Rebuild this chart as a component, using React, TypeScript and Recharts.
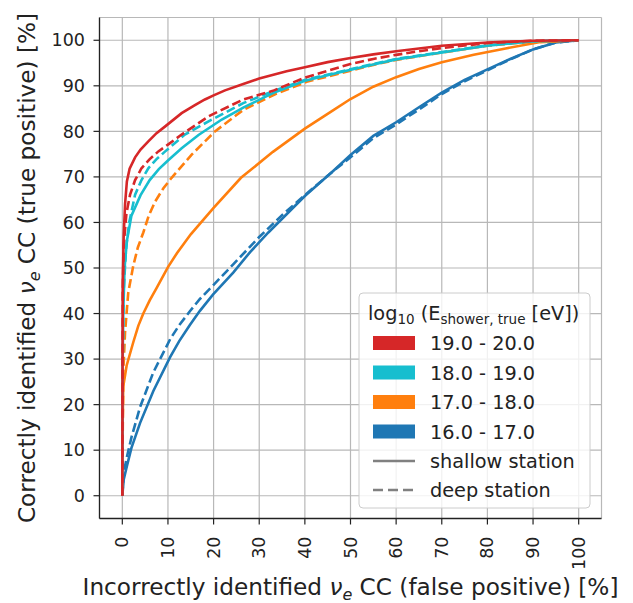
import React from "react";
import { LineChart, Line, XAxis, YAxis, CartesianGrid } from "recharts";

// ---- data (false positive % , true positive %) ----
const ticks = [0, 10, 20, 30, 40, 50, 60, 70, 80, 90, 100];

const red_shallow_fpr = [0, 0.05, 0.1, 0.3, 0.6, 1, 1.6, 2.8, 4, 5.7, 7.5, 9.4, 13, 16, 18.1, 20, 22.5, 26.5, 30, 36, 40, 45, 50, 55, 60, 65, 70, 80, 90, 100];
const red_shallow_tpr = [0, 30, 47, 57, 64, 69, 71.8, 74.3, 76, 77.8, 79.6, 81.1, 84, 85.8, 87, 87.9, 89, 90.4, 91.6, 93.2, 94.1, 95.2, 96.1, 96.9, 97.6, 98.2, 98.8, 99.5, 99.9, 100];

const red_deep_fpr = [0, 0.1, 0.3, 0.9, 1.7, 2.8, 4.2, 6, 7.9, 10, 13, 18.9, 24, 26.5, 33, 40, 45, 50, 55, 60, 65, 70, 80, 90, 100];
const red_deep_tpr = [0, 45, 55, 62, 66.1, 69.3, 71.9, 73.9, 75.6, 77.1, 79.3, 83.3, 85.8, 87, 88.9, 91.8, 93.3, 94.8, 95.9, 96.8, 97.6, 98.3, 99.4, 99.9, 100];

const cyan_shallow_fpr = [0, 0.05, 0.2, 0.5, 1, 2, 4, 6, 8, 10, 13, 16.7, 21.8, 26.5, 33, 40, 47.7, 55, 60, 70, 80, 90, 100];
const cyan_shallow_tpr = [0, 27, 40, 50, 56, 61.5, 66, 69.3, 71.7, 73.6, 76.3, 79.2, 82.6, 85.2, 88.4, 91.1, 93, 94.7, 95.8, 97.3, 98.8, 99.8, 100];

const cyan_deep_fpr = [0, 0.1, 0.3, 0.8, 1.5, 2.8, 4.2, 5.7, 7.5, 9.4, 13.7, 18.9, 26.5, 33, 40, 47.7, 55, 60, 70, 80, 90, 100];
const cyan_deep_tpr = [0, 30, 45, 54, 60, 66.1, 69.3, 71.9, 73.9, 75.6, 79.3, 82.2, 86.2, 88.8, 91.3, 93.1, 94.8, 95.9, 97.4, 98.9, 99.8, 100];

const orange_shallow_fpr = [0, 0.05, 0.2, 0.95, 2.4, 3.5, 4.6, 6, 7.5, 10, 12, 15, 20, 26, 33, 40, 46, 50, 55, 60, 65, 70, 77, 84, 91.6, 100];
const orange_shallow_tpr = [0, 14, 24, 28.6, 33.7, 37.3, 40, 42.9, 45.6, 50.2, 53.3, 57.4, 63.2, 69.8, 75.5, 80.6, 84.5, 87.1, 89.8, 91.9, 93.7, 95.2, 96.8, 98.2, 99.6, 100];

const orange_deep_fpr = [0, 0.1, 0.2, 0.6, 1.3, 2.4, 3.4, 4.6, 5.8, 7.2, 9, 10.8, 15.2, 20.3, 26.5, 33.8, 40.4, 50, 55, 60, 70, 80, 90, 100];
const orange_deep_tpr = [0, 15, 27, 35.9, 44.6, 50.5, 54.5, 57.8, 61.5, 64.6, 67.5, 69.8, 74.9, 80, 84.7, 88.3, 90.9, 93.3, 94.6, 95.7, 97.3, 98.8, 99.7, 100];

const blue_shallow_fpr = [0, 0.3, 1, 2, 3.9, 6.8, 10.5, 12.5, 14.8, 17, 19.9, 24.3, 28, 32, 36, 40, 46.2, 50, 55, 60, 65, 70, 75, 80, 85, 90, 95, 100];
const blue_shallow_tpr = [0, 3.5, 6.5, 10.5, 16, 23, 30.5, 34, 37.5, 40.6, 44.2, 49, 53.5, 57.8, 61.8, 65.8, 71.3, 74.8, 79, 82, 85.3, 88.5, 91.3, 93.6, 95.9, 98, 99.5, 100];

const blue_deep_fpr = [0, 0.3, 1, 2, 3.9, 6.8, 10.5, 12.5, 14.8, 17, 19.9, 24.3, 30, 35, 40, 46, 50, 55, 60, 65, 70, 75, 80, 85, 90, 95, 100];
const blue_deep_tpr = [0, 5, 8.5, 12.8, 19.5, 27.1, 34.4, 37.5, 40.5, 43.2, 46.2, 50.8, 56.8, 61.6, 66, 71.1, 74.3, 78.5, 81.5, 84.8, 88.2, 91, 93.4, 95.8, 98, 99.5, 100];

const energyBins = ["19.0 - 20.0", "18.0 - 19.0", "17.0 - 18.0", "16.0 - 17.0"];
const binColors = ["#d62728", "#17becf", "#ff7f0e", "#1f77b4"];

const zip = (xs: number[], ys: number[]) => xs.map((x, i) => ({ x, y: ys[i] }));

const series = [
  { key: "blue_s", data: zip(blue_shallow_fpr, blue_shallow_tpr), color: binColors[3], dashed: false },
  { key: "blue_d", data: zip(blue_deep_fpr, blue_deep_tpr), color: binColors[3], dashed: true },
  { key: "orange_s", data: zip(orange_shallow_fpr, orange_shallow_tpr), color: binColors[2], dashed: false },
  { key: "orange_d", data: zip(orange_deep_fpr, orange_deep_tpr), color: binColors[2], dashed: true },
  { key: "cyan_s", data: zip(cyan_shallow_fpr, cyan_shallow_tpr), color: binColors[1], dashed: false },
  { key: "cyan_d", data: zip(cyan_deep_fpr, cyan_deep_tpr), color: binColors[1], dashed: true },
  { key: "red_s", data: zip(red_shallow_fpr, red_shallow_tpr), color: binColors[0], dashed: false },
  { key: "red_d", data: zip(red_deep_fpr, red_deep_tpr), color: binColors[0], dashed: true },
];

const FONT = "DejaVu Sans";
const TXT = "#222";
const TICK_FS = 17.5;
const LEG_FS = 19.3;
const LAB_FS = 23.2;

const XTick = (props: any) => {
  const { x, y, payload } = props;
  return (
    <text
      x={x}
      y={y}
      transform={`rotate(-90 ${x} ${y})`}
      textAnchor="end"
      dominantBaseline="central"
      fontSize={TICK_FS}
      fontFamily={FONT}
      fill={TXT}
    >
      {payload.value}
    </text>
  );
};

const W = 633;
const H = 603;

export default function App() {
  return (
    <div style={{ position: "absolute", left: 0, top: 0, width: W, height: H, background: "#fff" }}>
      <LineChart
        width={W}
        height={H}
        margin={{ top: 17.5, right: 31.5, left: 0, bottom: 0 }}
      >
        <CartesianGrid stroke="#b8b8b8" strokeWidth={1.2} />
        <XAxis
          dataKey="x"
          type="number"
          domain={[-5, 105]}
          ticks={ticks}
          interval={0}
          height={84.5}
          tickSize={6}
          tickMargin={12}
          tick={<XTick />}
          tickLine={{ stroke: TXT, strokeWidth: 1.2 }}
          axisLine={{ stroke: TXT, strokeWidth: 1.3 }}
          allowDataOverflow
        />
        <XAxis
          xAxisId="top"
          orientation="top"
          type="number"
          domain={[-5, 105]}
          height={0}
          tick={false}
          tickLine={false}
          axisLine={{ stroke: TXT, strokeWidth: 1.3 }}
        />
        <YAxis
          type="number"
          domain={[-5, 105]}
          ticks={ticks}
          interval={0}
          width={99.5}
          tickSize={6}
          tickMargin={8.5}
          tick={{ fontSize: TICK_FS, fontFamily: FONT, fill: TXT }}
          tickLine={{ stroke: TXT, strokeWidth: 1.2 }}
          axisLine={{ stroke: TXT, strokeWidth: 1.3 }}
          allowDataOverflow
        />
        <YAxis
          yAxisId="right"
          orientation="right"
          type="number"
          domain={[-5, 105]}
          width={0}
          tick={false}
          tickLine={false}
          axisLine={{ stroke: TXT, strokeWidth: 1.3 }}
        />
        {series.map((s) => (
          <Line
            key={s.key}
            data={s.data}
            dataKey="y"
            type="linear"
            stroke={s.color}
            strokeWidth={2.6}
            strokeDasharray={s.dashed ? "9 4" : undefined}
            dot={false}
            activeDot={false}
            isAnimationActive={false}
          />
        ))}
      </LineChart>
      <svg
        width={W}
        height={H}
        style={{ position: "absolute", left: 0, top: 0, pointerEvents: "none" }}
        fontFamily={FONT}
      >
        {/* axis titles */}
        <text x={350.5} y={595} textAnchor="middle" fontSize={LAB_FS} fill={TXT}>
          Incorrectly identified <tspan fontStyle="italic">ν</tspan>
          <tspan fontStyle="italic" fontSize={16} dy={5}>e</tspan>
          <tspan dy={-5}> CC (false positive) [%]</tspan>
        </text>
        <text
          x={34.5}
          y={268}
          transform="rotate(-90 34.5 268)"
          textAnchor="middle"
          fontSize={LAB_FS}
          fill={TXT}
        >
          Correctly identified <tspan fontStyle="italic">ν</tspan>
          <tspan fontStyle="italic" fontSize={16} dy={5}>e</tspan>
          <tspan dy={-5}> CC (true positive) [%]</tspan>
        </text>
        {/* legend */}
        <rect x={359} y={293} width={231} height={215} rx={4} fill="#fff" fillOpacity={0.8} stroke="#cccccc" strokeWidth={1} />
        <text x={368} y={320} fontSize={LEG_FS} fill={TXT}>
          log<tspan fontSize={13.5} dy={4}>10</tspan>
          <tspan dy={-4}> (E</tspan>
          <tspan fontSize={13.5} dy={4}>shower, true</tspan>
          <tspan dy={-4}> [eV])</tspan>
        </text>
        {energyBins.map((lab, i) => {
          const cy = 343 + i * 29.5;
          return (
            <g key={lab}>
              <rect x={373} y={cy - 7} width={42} height={14} fill={binColors[i]} />
              <text x={430} y={cy + 7} fontSize={LEG_FS} fill={TXT}>{lab}</text>
            </g>
          );
        })}
        <line x1={373} x2={415} y1={461} y2={461} stroke="#808080" strokeWidth={2.6} />
        <text x={430} y={468} fontSize={LEG_FS} fill={TXT}>shallow station</text>
        <line x1={373} x2={415} y1={490} y2={490} stroke="#808080" strokeWidth={2.6} strokeDasharray="10 5" />
        <text x={430} y={497} fontSize={LEG_FS} fill={TXT}>deep station</text>
      </svg>
    </div>
  );
}
